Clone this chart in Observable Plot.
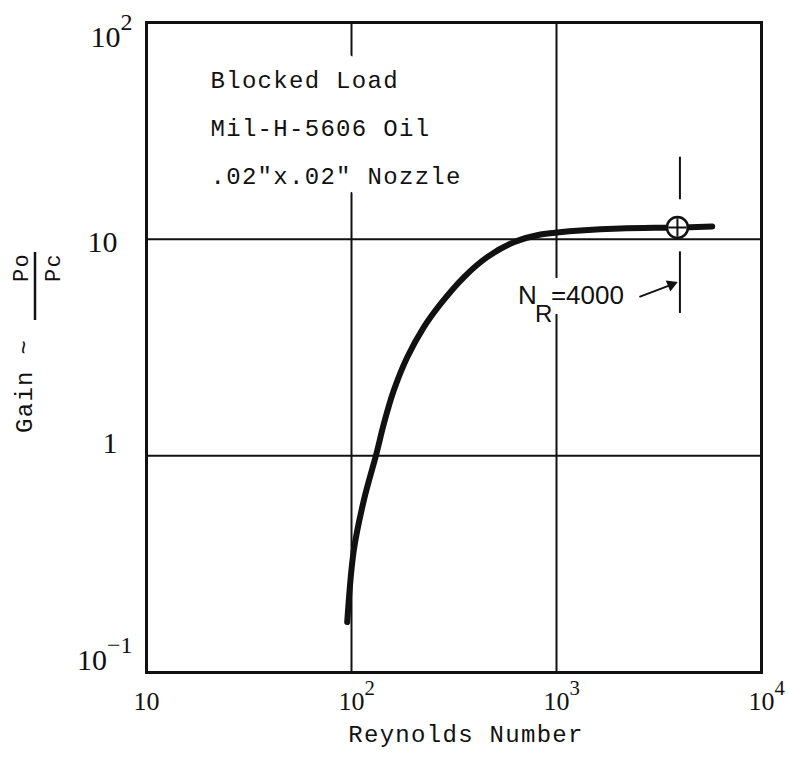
<!DOCTYPE html>
<html>
<head>
<meta charset="utf-8">
<script src="https://cdn.jsdelivr.net/npm/d3@7"></script>
<script src="https://cdn.jsdelivr.net/npm/@observablehq/plot@0.6"></script>
<style>
  html, body { margin: 0; padding: 0; background: #fff; }
  #chart svg { display: block; }
</style>
</head>
<body>
<div id="chart"></div>
<script>
// Curve: Reynolds number vs gain (Po/Pc)
const reynolds = [95.3, 102.6, 114.8, 132.4, 143.8, 160.7, 187, 225, 272, 353, 459, 619, 835, 1008, 1309, 2051, 3890, 5748];
const gain     = [0.171, 0.366, 0.622, 1.026, 1.406, 2.0, 2.85, 3.92, 5.03, 6.67, 8.26, 9.68, 10.51, 10.73, 10.96, 11.2, 11.32, 11.44];

// Marker at N_R = 4000
const markerRe = [3890];
const markerGain = [11.32];
const refLineRe = 4000;
const refLineGainLow  = [15.2, 4.54];
const refLineGainHigh = [23.9, 8.74];

// Arrow pointing to the reference line
const arrowRe   = [2556, 3755];
const arrowGain = [5.43, 6.23];

// Label anchor for "N_R=4000"
const labelRe = [4000];
const labelGain = [5.49];

// Axis ticks
const xTicks = [10, 100, 1000, 10000];
const xTickLabels = ["10", "10^2", "10^3", "10^4"];
const yTicks = [0.1, 1, 10, 100];
const yTickLabels = ["10^-1", "1", "10", "10^2"];
const gridXValues = [100, 1000];
const gridYValues = [1, 10];

const noteLines = ["Blocked Load", "Mil-H-5606 Oil", ".02\"x.02\" Nozzle"];
const xTitle = "Reynolds Number";

const curve = reynolds.map((r, i) => ({re: r, g: gain[i]}));
const marker = markerRe.map((r, i) => ({re: r, g: markerGain[i]}));
const refSegs = refLineGainLow.map((lo, i) => ({re: refLineRe, lo, hi: refLineGainHigh[i]}));
const arrow = [{x1: arrowRe[0], y1: arrowGain[0], x2: arrowRe[1], y2: arrowGain[1]}];
const label = labelRe.map((r, i) => ({re: r, g: labelGain[i]}));

const ink = "#111";
const mono = "Liberation Mono";

const plot = Plot.plot({
  width: 788,
  height: 768,
  marginLeft: 146,
  marginRight: 27,
  marginTop: 22,
  marginBottom: 96,
  style: {fontFamily: "Liberation Serif", fontSize: "26px", color: ink, background: "#fff"},
  x: {type: "log", domain: [10, 10000]},
  y: {type: "log", domain: [0.1, 100]},
  marks: [
    Plot.gridX(gridXValues, {stroke: ink, strokeOpacity: 1, strokeWidth: 2}),
    Plot.gridY(gridYValues, {stroke: ink, strokeOpacity: 1, strokeWidth: 2}),
    Plot.text([noteLines.join("\n")], {
      frameAnchor: "top-left", dx: 64, dy: 31, lineAnchor: "top", lineHeight: 2,
      textAnchor: "start", fontFamily: mono, fontSize: 24, fill: ink,
      stroke: "white", strokeWidth: 38
    }),
    Plot.text(label, {x: "re", y: "g", text: () => "=4000", textAnchor: "start", dx: -129,
      fontFamily: "Liberation Sans", fontSize: 26, fill: ink, stroke: "white", strokeWidth: 28}),
    Plot.text(label, {x: "re", y: "g", text: () => "N", textAnchor: "start", dx: -162,
      fontFamily: "Liberation Sans", fontSize: 26, fill: ink}),
    Plot.text(label, {x: "re", y: "g", text: () => "R", textAnchor: "start", dx: -145, dy: 19,
      fontFamily: "Liberation Sans", fontSize: 24, fill: ink}),
    Plot.text([xTitle], {frameAnchor: "bottom", dx: 12, dy: 69, fontFamily: mono, fontSize: 24, fill: ink}),
    Plot.ruleX(refSegs, {x: "re", y1: "lo", y2: "hi", stroke: ink, strokeWidth: 2}),
    Plot.line(curve, {x: "re", y: "g", stroke: ink, strokeWidth: 6, curve: "catmull-rom", strokeLinecap: "round"}),
    Plot.dot(marker, {x: "re", y: "g", r: 10.5, fill: "white", stroke: ink, strokeWidth: 2.5}),
    Plot.dot(marker, {x: "re", y: "g", r: 6, symbol: "plus", stroke: ink, strokeWidth: 2}),
    Plot.arrow(arrow, {x1: "x1", y1: "y1", x2: "x2", y2: "y2", stroke: ink, strokeWidth: 1.8, headLength: 0}),
    Plot.dot(arrow, {x: "x2", y: "y2", symbol: "triangle", r: 4.5, fill: ink, rotate: 68, dx: -3, dy: 1}),
    Plot.frame({stroke: ink, strokeWidth: 3}),
    Plot.axisX({ticks: xTicks, tickFormat: d => xTickLabels[xTicks.indexOf(d)], tickSize: 0, tickPadding: 19, label: null, fontSize: 26}),
    Plot.axisY({ticks: yTicks, tickFormat: d => yTickLabels[yTicks.indexOf(d)], tickSize: 0, tickPadding: 29, label: null, fontSize: 30})
  ]
});

const svg = d3.select(plot);

// letter spacing for typewriter texts
svg.selectAll("g[aria-label='text']").each(function() {
  const g = d3.select(this);
  if ((g.attr("font-family") || "").includes("Mono")) g.attr("letter-spacing", 1.3);
});

function supify(sel) {
  sel.each(function() {
    const t = d3.select(this);
    const parts = t.text().split("^");
    t.text(parts[0]);
    if (parts[1]) {
      t.append("tspan").attr("dy", "-0.72em").attr("font-size", "0.8em").text(parts[1].replace("-", "\u2212"));
      t.attr("data-sup", "1");
    }
  });
}
function shift(t, dx, dy) {
  const tr = t.attr("transform") || "";
  t.attr("transform", `translate(${dx},${dy}) ${tr}`);
}

const xt = svg.selectAll("g[aria-label='x-axis tick label']");
xt.attr("font-size", 26);
xt.selectAll("text").attr("font-size", 26);
supify(xt.selectAll("text"));
xt.selectAll("text").attr("text-anchor", "start").each(function() {
  shift(d3.select(this), -13, 0);
});

// vertical nudges of the typed y labels, as placed in the original
const yLabelNudge = {"10^-1": -12, "1": -12, "10": 3, "10^2": 15};
const yt = svg.selectAll("g[aria-label='y-axis tick label']");
yt.attr("font-size", 30);
yt.selectAll("text").attr("font-size", 30).each(function() {
  const t = d3.select(this);
  const key = t.text();
  shift(t, key.includes("^") ? 15 : 0, yLabelNudge[key] || 0);
});
supify(yt.selectAll("text"));
yt.selectAll("text").attr("text-anchor", "end");

// y-axis title: Gain ~ Po/Pc (rotated)
const yl = svg.append("g").attr("font-family", mono).attr("fill", ink).attr("letter-spacing", 1.3);
yl.append("text").attr("transform", "translate(32,433) rotate(-90)").attr("text-anchor", "start").attr("font-size", 24).text("Gain ~");
yl.append("line").attr("x1", 35).attr("x2", 35).attr("y1", 252).attr("y2", 320)
  .attr("stroke", ink).attr("stroke-width", 2.5);
yl.append("text").attr("transform", "translate(28,253) rotate(-90)").attr("text-anchor", "end").attr("font-size", 22).text("Po");
yl.append("text").attr("transform", "translate(60,253) rotate(-90)").attr("text-anchor", "end").attr("font-size", 22).text("Pc");

document.getElementById("chart").append(plot);
</script>
</body>
</html>
